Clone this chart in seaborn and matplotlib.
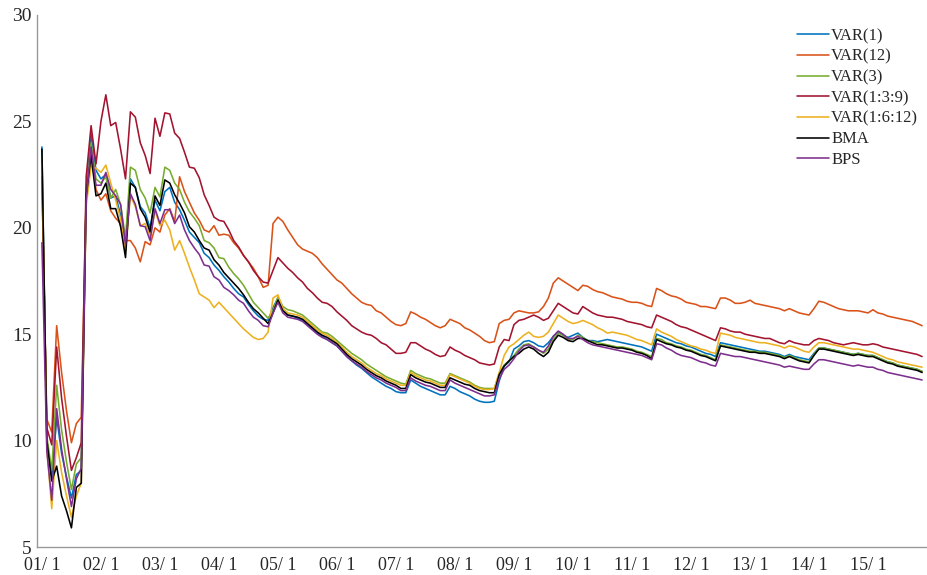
import numpy as np
import pandas as pd
import matplotlib
matplotlib.use("Agg")
import matplotlib.pyplot as plt
import matplotlib.ticker as mticker
import seaborn as sns

# monthly values, Jan 2001 .. Dec 2015 (one row per year)
VAR_1 = [
    23.8, 10.0, 8.3, 11.1, 9.4, 8.3, 7.3, 8.4, 8.6, 21.8, 24.4, 22.7,
    22.3, 22.5, 21.4, 21.5, 20.6, 19.2, 22.3, 21.9, 21.0, 20.7, 20.0, 21.3,
    20.8, 21.7, 21.9, 21.2, 20.85, 20.35, 19.8, 19.55, 19.3, 18.8, 18.6, 18.25,
    18.0, 17.7, 17.45, 17.15, 16.9, 16.75, 16.4, 16.1, 15.85, 15.7, 15.65, 16.25,
    16.7, 16.15, 15.9, 15.85, 15.75, 15.65, 15.45, 15.25, 15.05, 14.9, 14.75, 14.6,
    14.45, 14.2, 13.95, 13.75, 13.55, 13.4, 13.2, 13.0, 12.85, 12.7, 12.55, 12.45,
    12.3, 12.25, 12.25, 12.85, 12.7, 12.55, 12.45, 12.35, 12.25, 12.15, 12.15, 12.55,
    12.45, 12.3, 12.2, 12.1, 11.95, 11.85, 11.8, 11.8, 11.85, 12.8, 13.5, 13.7,
    14.3, 14.45, 14.65, 14.7, 14.6, 14.45, 14.4, 14.6, 14.9, 15.1, 14.95, 14.85,
    14.95, 15.05, 14.85, 14.7, 14.7, 14.65, 14.7, 14.75, 14.7, 14.65, 14.6, 14.55,
    14.5, 14.45, 14.4, 14.3, 14.2, 15.0, 14.9, 14.8, 14.7, 14.6, 14.55, 14.45,
    14.4, 14.3, 14.2, 14.1, 14.05, 13.95, 14.6, 14.55, 14.5, 14.45, 14.4, 14.35,
    14.3, 14.25, 14.2, 14.2, 14.15, 14.1, 14.05, 13.95, 14.05, 13.95, 13.9, 13.85,
    13.8, 14.1, 14.35, 14.35, 14.3, 14.25, 14.2, 14.15, 14.1, 14.05, 14.1, 14.05,
    14.0, 14.0, 13.9, 13.8, 13.7, 13.65, 13.55, 13.5, 13.45, 13.4, 13.35, 13.25,
]
VAR_12 = [
    22.3, 11.0, 10.4, 15.4, 13.2, 11.4, 9.9, 10.8, 11.1, 21.5, 23.5, 21.8,
    21.3, 21.6, 20.8, 20.45, 20.2, 19.4, 19.4, 19.05, 18.4, 19.35, 19.2, 20.0,
    19.8, 20.6, 20.9, 20.3, 22.4, 21.7, 21.2, 20.7, 20.35, 19.9, 19.8, 20.1,
    19.65, 19.7, 19.65, 19.3, 19.05, 18.7, 18.4, 18.1, 17.7, 17.2, 17.3, 20.2,
    20.5, 20.3, 19.9, 19.55, 19.2, 19.0, 18.9, 18.8, 18.6, 18.3, 18.05, 17.8,
    17.55, 17.4, 17.15, 16.9, 16.7, 16.5, 16.4, 16.35, 16.1, 16.0, 15.8, 15.6,
    15.45, 15.4, 15.5, 16.05, 15.95, 15.8, 15.7, 15.55, 15.4, 15.3, 15.4, 15.7,
    15.6, 15.5, 15.3, 15.2, 15.05, 14.9, 14.7, 14.6, 14.65, 15.5, 15.65, 15.7,
    16.0, 16.1, 16.05, 16.0, 16.0, 16.05, 16.3, 16.7, 17.4, 17.65, 17.5, 17.35,
    17.2, 17.05, 17.3, 17.25, 17.1, 17.0, 16.95, 16.85, 16.75, 16.7, 16.65, 16.55,
    16.5, 16.5, 16.45, 16.35, 16.3, 17.15, 17.05, 16.9, 16.8, 16.75, 16.65, 16.5,
    16.45, 16.4, 16.3, 16.3, 16.25, 16.2, 16.7, 16.7, 16.6, 16.45, 16.45, 16.5,
    16.6, 16.45, 16.4, 16.35, 16.3, 16.25, 16.2, 16.1, 16.2, 16.1, 16.0, 15.95,
    15.9, 16.2, 16.55, 16.5, 16.4, 16.3, 16.2, 16.15, 16.1, 16.1, 16.1, 16.05,
    16.0, 16.15, 16.0, 15.95, 15.85, 15.8, 15.75, 15.7, 15.65, 15.6, 15.5, 15.4,
]
VAR_3 = [
    23.4, 10.2, 8.6, 12.6, 10.5, 9.0, 7.7, 8.9, 9.2, 21.6, 24.0, 22.3,
    22.1, 22.4, 21.4, 21.8, 21.1, 19.5, 22.85, 22.7, 21.8, 21.4, 20.7, 21.9,
    21.45, 22.85, 22.7, 22.1, 21.8, 21.2, 20.75, 20.45, 20.1, 19.4, 19.3, 19.05,
    18.6, 18.55, 18.15, 17.85, 17.6, 17.3, 16.9, 16.5, 16.25, 16.0, 15.75, 16.1,
    16.75, 16.3, 16.15, 16.1, 16.0, 15.9, 15.7, 15.5, 15.3, 15.1, 15.05, 14.9,
    14.7, 14.5, 14.3, 14.1, 13.95, 13.8, 13.6, 13.45, 13.3, 13.15, 13.0, 12.9,
    12.8, 12.7, 12.65, 13.3, 13.15, 13.05, 12.95, 12.9, 12.8, 12.7, 12.7, 13.15,
    13.05, 12.95, 12.85, 12.75, 12.6, 12.5, 12.45, 12.45, 12.45, 13.15, 13.55, 13.75,
    14.0, 14.3, 14.5, 14.55, 14.4, 14.25, 14.1, 14.3, 14.75, 15.05, 14.95, 14.75,
    14.75, 14.95, 14.85, 14.7, 14.65, 14.6, 14.55, 14.5, 14.45, 14.4, 14.4, 14.35,
    14.3, 14.2, 14.15, 14.05, 13.95, 14.8, 14.75, 14.6, 14.55, 14.45, 14.4, 14.3,
    14.25, 14.15, 14.05, 14.0, 13.9, 13.8, 14.5, 14.45, 14.4, 14.35, 14.3, 14.25,
    14.2, 14.2, 14.15, 14.15, 14.1, 14.05, 14.0, 13.9, 14.0, 13.9, 13.8, 13.75,
    13.7, 14.05, 14.35, 14.35, 14.3, 14.25, 14.2, 14.15, 14.1, 14.05, 14.1, 14.05,
    14.0, 14.0, 13.9, 13.8, 13.7, 13.65, 13.55, 13.5, 13.45, 13.4, 13.35, 13.25,
]
VAR_1_3_9 = [
    22.4, 10.6, 9.8, 14.4, 12.0, 10.2, 8.6, 9.2, 9.9, 22.4, 24.8, 23.0,
    25.0, 26.25, 24.8, 24.95, 23.7, 22.3, 25.45, 25.2, 24.0, 23.4, 22.55, 25.15,
    24.3, 25.4, 25.35, 24.45, 24.2, 23.55, 22.85, 22.8, 22.35, 21.55, 21.05, 20.5,
    20.35, 20.3, 19.9, 19.4, 19.1, 18.7, 18.4, 18.0, 17.7, 17.45, 17.4, 18.0,
    18.6, 18.35, 18.1, 17.9, 17.65, 17.45, 17.15, 16.95, 16.7, 16.5, 16.45, 16.3,
    16.05, 15.85, 15.65, 15.4, 15.25, 15.1, 15.0, 14.95, 14.8, 14.6, 14.5, 14.3,
    14.1, 14.1, 14.15, 14.6, 14.6, 14.45, 14.3, 14.2, 14.05, 13.95, 14.0, 14.4,
    14.25, 14.15, 14.0, 13.9, 13.8, 13.65, 13.6, 13.55, 13.6, 14.4, 14.75, 14.7,
    15.45, 15.65, 15.7, 15.8, 15.9, 15.8, 15.65, 15.75, 16.1, 16.45, 16.3, 16.15,
    16.0, 15.95, 16.3, 16.15, 16.0, 15.9, 15.85, 15.8, 15.8, 15.75, 15.7, 15.6,
    15.55, 15.5, 15.45, 15.35, 15.3, 15.9, 15.8, 15.7, 15.6, 15.45, 15.35, 15.3,
    15.2, 15.1, 15.0, 14.9, 14.8, 14.7, 15.3, 15.25, 15.15, 15.1, 15.1, 15.0,
    14.95, 14.9, 14.85, 14.8, 14.8, 14.7, 14.6, 14.55, 14.7, 14.6, 14.55, 14.5,
    14.5, 14.7, 14.8, 14.75, 14.7, 14.6, 14.55, 14.5, 14.55, 14.6, 14.55, 14.5,
    14.5, 14.55, 14.5, 14.4, 14.35, 14.3, 14.25, 14.2, 14.15, 14.1, 14.05, 13.95,
]
VAR_1_6_12 = [
    23.0, 9.6, 6.8, 10.0, 8.5, 7.4, 6.4, 7.4, 8.0, 21.0, 22.9, 22.8,
    22.6, 22.95, 22.1, 21.3, 20.4, 18.9, 21.5, 21.0, 20.1, 20.2, 19.6, 20.8,
    20.1, 20.35, 19.9, 18.95, 19.4, 18.8, 18.15, 17.55, 16.9, 16.75, 16.6, 16.25,
    16.5, 16.25, 16.0, 15.75, 15.5, 15.25, 15.05, 14.85, 14.75, 14.8, 15.1, 16.7,
    16.85, 16.2, 16.0, 15.95, 15.9, 15.8, 15.6, 15.4, 15.2, 15.05, 14.95, 14.8,
    14.6, 14.4, 14.15, 13.95, 13.8, 13.65, 13.45, 13.3, 13.15, 13.05, 12.9, 12.8,
    12.7, 12.6, 12.6, 13.2, 13.05, 12.95, 12.85, 12.8, 12.7, 12.6, 12.6, 13.1,
    13.0, 12.9, 12.8, 12.7, 12.55, 12.45, 12.4, 12.4, 12.45, 13.2, 14.0, 14.4,
    14.55, 14.75, 14.95, 15.1, 14.9, 14.85, 14.9, 15.1, 15.5, 15.9, 15.75, 15.6,
    15.5, 15.55, 15.65, 15.55, 15.45, 15.3, 15.2, 15.05, 15.1, 15.05, 15.0, 14.95,
    14.85, 14.75, 14.7, 14.6, 14.5, 15.25, 15.1, 15.0, 14.9, 14.75, 14.65, 14.55,
    14.45, 14.4, 14.3, 14.25, 14.15, 14.1, 15.05, 15.0, 14.95, 14.85, 14.8, 14.75,
    14.7, 14.65, 14.6, 14.6, 14.55, 14.5, 14.45, 14.35, 14.45, 14.4, 14.3, 14.2,
    14.15, 14.4, 14.6, 14.6, 14.55, 14.5, 14.45, 14.4, 14.35, 14.3, 14.3, 14.25,
    14.2, 14.15, 14.05, 13.95, 13.85, 13.8, 13.7, 13.65, 13.6, 13.55, 13.5, 13.45,
]
BMA = [
    23.7, 10.0, 8.1, 8.8, 7.4, 6.7, 5.9, 7.8, 8.0, 21.5, 23.4, 21.5,
    21.6, 22.1, 20.9, 20.9, 20.05, 18.6, 22.1, 21.9, 20.9, 20.5, 19.8, 21.5,
    21.05, 22.25, 22.1, 21.55, 21.15, 20.7, 20.05, 19.8, 19.4, 19.05, 18.95, 18.5,
    18.25, 17.9, 17.65, 17.4, 17.15, 16.85, 16.5, 16.2, 16.0, 15.75, 15.5, 16.0,
    16.6, 16.1, 15.9, 15.85, 15.8, 15.7, 15.5, 15.3, 15.1, 14.95, 14.85, 14.7,
    14.55, 14.3, 14.05, 13.85, 13.7, 13.55, 13.35, 13.2, 13.05, 12.95, 12.8, 12.7,
    12.6, 12.45, 12.45, 13.1, 12.95, 12.85, 12.75, 12.7, 12.6, 12.5, 12.5, 12.95,
    12.85, 12.75, 12.65, 12.6, 12.45, 12.35, 12.3, 12.25, 12.25, 13.1, 13.5, 13.75,
    13.95, 14.1, 14.3, 14.4, 14.3, 14.1, 13.95, 14.15, 14.65, 14.95, 14.85, 14.7,
    14.65, 14.8, 14.8, 14.7, 14.6, 14.5, 14.5, 14.45, 14.4, 14.35, 14.35, 14.3,
    14.25, 14.15, 14.1, 14.0, 13.85, 14.75, 14.65, 14.55, 14.5, 14.4, 14.35, 14.25,
    14.2, 14.1, 14.0, 13.95, 13.85, 13.75, 14.45, 14.4, 14.35, 14.3, 14.25, 14.2,
    14.15, 14.15, 14.1, 14.1, 14.05, 14.0, 13.95, 13.85, 13.95, 13.85, 13.75, 13.7,
    13.65, 14.0, 14.3, 14.3, 14.25, 14.2, 14.15, 14.1, 14.05, 14.0, 14.05, 14.0,
    13.95, 13.95, 13.85, 13.75, 13.65, 13.6, 13.5, 13.45, 13.4, 13.35, 13.3, 13.2,
]
BPS = [
    19.3, 9.5, 7.2, 11.5, 9.6, 8.2, 6.9, 8.2, 8.7, 21.3, 23.8, 22.0,
    22.0, 22.6, 21.8, 21.5, 21.1, 19.2, 21.6, 21.1, 20.1, 20.05, 19.4, 20.9,
    20.2, 20.85, 20.85, 20.2, 20.6, 19.9, 19.4, 19.05, 18.75, 18.25, 18.2, 17.7,
    17.55, 17.2, 17.05, 16.85, 16.6, 16.45, 16.1, 15.8, 15.65, 15.4, 15.35, 16.0,
    16.5, 16.0, 15.8, 15.75, 15.7, 15.6, 15.4, 15.2, 15.0, 14.85, 14.75, 14.6,
    14.45, 14.2, 13.95, 13.75, 13.6, 13.45, 13.25, 13.1, 12.95, 12.85, 12.7, 12.6,
    12.5, 12.35, 12.35, 12.95, 12.8, 12.7, 12.6, 12.55, 12.45, 12.35, 12.35, 12.85,
    12.7, 12.6, 12.5, 12.4, 12.3, 12.2, 12.1, 12.1, 12.15, 12.9, 13.35, 13.55,
    13.85, 14.2, 14.45, 14.5, 14.4, 14.25, 14.15, 14.45, 14.9, 15.15, 15.0, 14.8,
    14.8, 14.9, 14.75, 14.6, 14.5, 14.45, 14.4, 14.35, 14.3, 14.25, 14.2, 14.15,
    14.1, 14.05, 14.0, 13.9, 13.8, 14.55, 14.5, 14.35, 14.25, 14.1, 14.0, 13.95,
    13.9, 13.8, 13.7, 13.65, 13.55, 13.5, 14.1, 14.05, 14.0, 13.95, 13.95, 13.9,
    13.85, 13.8, 13.75, 13.7, 13.65, 13.6, 13.55, 13.45, 13.5, 13.45, 13.4, 13.35,
    13.35, 13.6, 13.8, 13.8, 13.75, 13.7, 13.65, 13.6, 13.55, 13.5, 13.55, 13.5,
    13.45, 13.45, 13.35, 13.3, 13.2, 13.15, 13.1, 13.05, 13.0, 12.95, 12.9, 12.85,
]

SERIES = ["VAR(1)", "VAR(12)", "VAR(3)", "VAR(1:3:9)", "VAR(1:6:12)", "BMA", "BPS"]
VALUES = [VAR_1, VAR_12, VAR_3, VAR_1_3_9, VAR_1_6_12, BMA, BPS]
COLORS = ["#0072BD", "#D95319", "#77AC30", "#A2142F", "#EDB120", "#000000", "#7E2F8E"]
YEAR_LABELS = ["01/ 1", "02/ 1", "03/ 1", "04/ 1", "05/ 1", "06/ 1", "07/ 1", "08/ 1",
               "09/ 1", "10/ 1", "11/ 1", "12/ 1", "13/ 1", "14/ 1", "15/ 1"]

frames = []
for name, vals in zip(SERIES, VALUES):
    frames.append(pd.DataFrame({"month": np.arange(len(vals)), "value": vals, "model": name}))
df = pd.concat(frames, ignore_index=True)

sns.set_style("white")
plt.rcParams["font.family"] = ["Liberation Serif", "DejaVu Serif"]

fig = plt.figure(figsize=(9.28, 5.75), dpi=100)
ax = fig.add_axes([37 / 928, 28 / 575, 891 / 928, 532 / 575])

sns.lineplot(data=df, x="month", y="value", hue="model", hue_order=SERIES,
             palette=dict(zip(SERIES, COLORS)), linewidth=1.15, ax=ax)

ax.set_xlim(-1, 180.2)
ax.set_ylim(5, 30)
ax.set_xlabel("")
ax.set_ylabel("")

ax.xaxis.set_major_locator(mticker.FixedLocator(np.arange(len(YEAR_LABELS)) * 12))
ax.xaxis.set_major_formatter(mticker.FixedFormatter(YEAR_LABELS))
ax.xaxis.set_minor_locator(mticker.AutoMinorLocator(8))
ax.yaxis.set_major_locator(mticker.MultipleLocator(5))
ax.yaxis.set_minor_locator(mticker.MultipleLocator(1))

ax.tick_params(which="both", direction="in", color="#888888", width=0.8)
ax.tick_params(which="major", length=5.5)
ax.tick_params(which="minor", length=3)
ax.tick_params(axis="x", which="major", labelsize=13, pad=7)
ax.tick_params(axis="y", which="major", labelsize=14, pad=4)

for side in ["top", "right"]:
    ax.spines[side].set_visible(False)
for side in ["left", "bottom"]:
    ax.spines[side].set_color("#999999")
    ax.spines[side].set_linewidth(1.0)

handles, labels = ax.get_legend_handles_labels()
ax.legend(handles, labels, loc="upper left", bbox_to_anchor=(797 / 928, 1 - 28 / 575),
          bbox_transform=fig.transFigure, frameon=False, fontsize=12,
          handlelength=1.95, handletextpad=0.1, labelspacing=0.28,
          borderpad=0, borderaxespad=0)

fig.savefig("out.png", dpi=100)
